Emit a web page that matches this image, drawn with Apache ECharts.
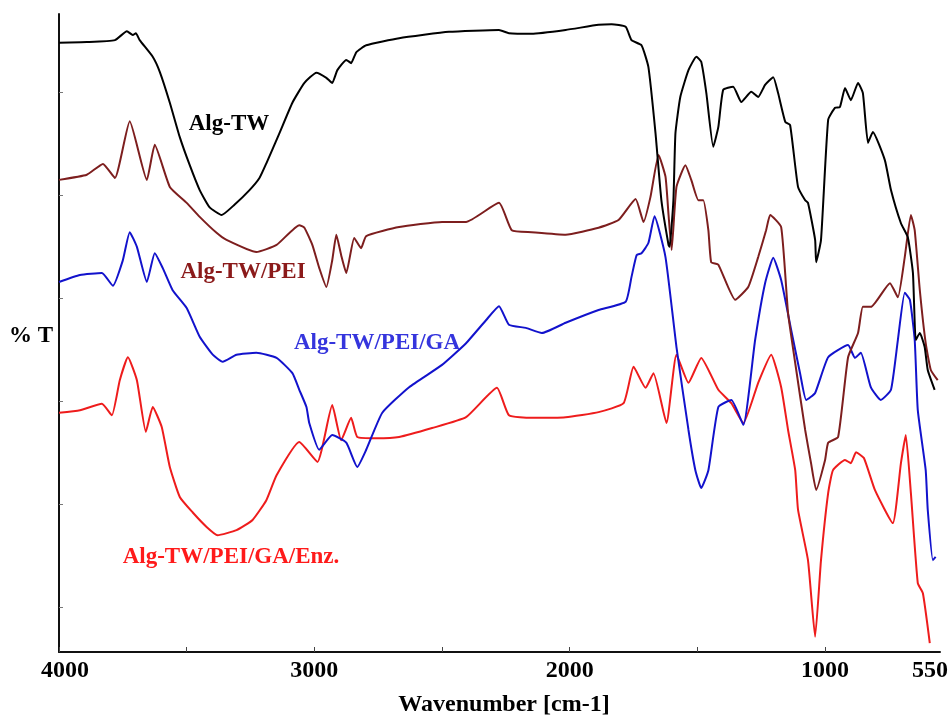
<!DOCTYPE html>
<html>
<head>
<meta charset="utf-8">
<script src="https://cdn.jsdelivr.net/npm/echarts@6/dist/echarts.min.js"></script>
<style>html,body{margin:0;padding:0;background:#fff}#c{width:952px;height:718px}</style>
</head>
<body>
<div id="c"></div>
<script>
// ---- Data (wavenumber in cm-1, transmittance in arbitrary %T units) ----
const xTickValues = [4000, 3500, 3000, 2500, 2000, 1500, 1000];
const xLabelValues = [4000, 3000, 2000, 1000, 550];
const yTickValues = [7.05, 23.2, 39.3, 55.5, 71.6, 87.8];

const algTW_wn = [4000,3891,3781,3734,3711,3699,3684,3633,3605,3566,3527,3488,3449,3410,3363,3313,3254,3215,3188,3137,3086,3039,2992,2953,2930,2910,2875,2856,2836,2797,2668,2473,2277,2238,2149,2016,1887,1836,1781,1758,1719,1692,1664,1641,1613,1609,1594,1586,1567,1535,1504,1485,1465,1438,1418,1399,1360,1328,1289,1262,1235,1203,1184,1156,1137,1106,1078,1067,1039,1035,1016,988,961,942,922,899,871,852,832,813,766,742,703,676,656,645,629,610,598,571];
const algTW_T = [95.5,95.6,95.9,97.3,96.7,97.0,95.9,93.3,90.9,86.1,80.7,76.3,72.4,69.7,68.5,70.1,72.4,74.3,76.6,81.3,86.1,89.2,90.8,90.0,89.2,91.2,92.8,92.3,94.0,95.1,96.2,97.2,97.5,97.0,96.9,97.5,98.3,98.4,98.0,95.9,95.1,91.7,81.3,70.8,63.8,63.5,70.8,81.3,87.0,91.2,93.3,92.5,87.6,79.2,82.3,88.1,88.6,86.2,87.8,87.0,88.9,90.1,87.6,83.1,82.6,72.9,70.8,70.4,64.6,61.1,64.6,83.4,85.3,85.4,88.4,86.5,89.2,87.6,79.8,81.5,77.1,72.4,67.2,65.0,59.4,48.9,50.0,47.8,44.2,41.1];

const pei_wn = [4000,3891,3828,3781,3723,3656,3625,3566,3500,3449,3383,3344,3227,3148,3059,3039,3008,2981,2953,2930,2914,2895,2875,2844,2817,2797,2668,2500,2406,2277,2227,2149,2016,1887,1809,1742,1711,1684,1652,1625,1613,1601,1582,1547,1524,1496,1477,1457,1446,1418,1352,1301,1262,1231,1215,1172,1145,1117,1078,1055,1035,1000,988,949,910,871,852,820,746,715,688,664,649,629,606,586,559];
const pei_T = [74.0,74.8,76.5,74.3,83.2,74.0,79.5,72.9,70.4,68.2,65.7,64.6,62.7,63.8,66.9,66.5,63.8,60.2,57.2,61.4,65.4,62.2,59.4,64.9,63.3,65.2,66.6,67.4,67.4,70.4,66.1,65.8,65.4,66.5,67.7,71.0,67.4,71.3,77.9,74.5,68.5,63.0,72.9,76.3,74.0,70.8,70.8,66.1,61.1,60.7,55.2,57.2,61.9,66.1,68.5,66.6,53.1,45.3,34.8,29.6,25.4,30.1,32.8,33.7,46.2,50.0,54.1,54.1,57.8,55.6,61.9,68.5,66.1,56.7,48.4,44.2,42.6];

const ga_wn = [4000,3918,3832,3789,3750,3723,3695,3656,3625,3594,3555,3500,3449,3398,3359,3305,3227,3148,3086,3059,3031,3020,2981,2930,2875,2832,2797,2734,2629,2500,2406,2328,2277,2238,2172,2109,2016,1887,1781,1758,1738,1719,1692,1668,1625,1582,1535,1508,1485,1457,1418,1367,1320,1274,1235,1203,1172,1133,1098,1074,1039,988,910,883,860,821,782,742,715,688,668,649,637,606,598,578,567];
const ga_T = [58.0,59.1,59.4,57.4,61.4,65.8,63.5,58.0,62.5,60.2,56.7,53.9,49.4,46.6,45.5,46.6,46.9,46.1,43.7,41.1,38.4,35.9,31.7,34.0,32.8,29.0,31.7,37.5,41.5,45.0,48.4,52.0,54.2,51.3,50.8,50.0,51.6,53.6,54.9,58.8,62.2,62.5,64.1,68.3,61.9,47.8,34.8,28.5,25.7,28.5,38.4,39.5,35.6,48.9,57.8,61.8,58.3,50.5,43.7,39.5,40.6,46.2,48.1,46.1,46.9,41.5,39.5,41.1,48.9,56.3,55.2,48.9,37.9,28.5,22.3,14.4,14.9];

const enz_wn = [4000,3918,3832,3793,3762,3730,3695,3660,3633,3598,3566,3527,3477,3422,3379,3305,3242,3188,3148,3059,2988,2930,2895,2856,2832,2758,2668,2539,2406,2285,2238,2149,2016,1887,1789,1750,1703,1672,1621,1582,1535,1485,1418,1367,1320,1262,1211,1172,1145,1117,1106,1067,1039,1016,988,969,922,899,879,848,805,735,703,684,664,637,617,590];
const enz_T = [37.5,37.9,38.9,37.1,42.6,46.2,42.6,34.5,38.4,35.3,29.0,24.3,21.9,19.6,18.3,19.1,20.7,23.8,27.7,32.9,29.8,38.7,33.2,36.7,33.7,33.5,33.7,35.1,36.8,41.4,37.1,36.7,36.8,37.6,39.0,44.7,41.4,43.7,35.9,46.6,42.2,46.1,41.1,39.0,35.9,42.2,46.6,41.5,34.8,28.5,22.3,14.4,2.4,14.4,24.9,28.5,30.1,29.6,31.3,30.4,25.4,20.2,29.6,34.0,24.9,10.8,9.2,1.4];

const seriesNames = ['Alg-TW', 'Alg-TW/PEI', 'Alg-TW/PEI/GA', 'Alg-TW/PEI/GA/Enz.'];

// ---- Chart ----
const pair = (xs, ys) => xs.map((x, i) => [x, ys[i]]);
const serif = '"Liberation Serif", "Times New Roman", serif';
const lineColors = ['#000000', '#7d1e1e', '#1212cc', '#ee1c1c'];
const labelColors = ['#000000', '#8b1a1a', '#3535dd', '#ff1a1a'];
const allData = [pair(algTW_wn, algTW_T), pair(pei_wn, pei_T), pair(ga_wn, ga_T), pair(enz_wn, enz_T)];

const chart = echarts.init(document.getElementById('c'), null, {renderer: 'canvas'});
const labelPos = [[229, 124], [243, 272], [377, 343], [231, 557]];
const tickFont = {fontFamily: serif, fontWeight: 'bold', fontSize: 24, color: '#000'};

chart.setOption({
  animation: false,
  backgroundColor: '#ffffff',
  grid: {left: 59, right: 12, top: 14, bottom: 66, containLabel: false, outerBoundsMode: 'none'},
  xAxis: {
    type: 'value', inverse: true, min: 550, max: 4000,
    axisLine: {show: true, lineStyle: {color: '#111', width: 2}},
    axisTick: {show: true, inside: true, length: 5, lineStyle: {color: '#444', width: 1}, customValues: xTickValues},
    axisLabel: Object.assign({show: true, margin: 7, customValues: xLabelValues, hideOverlap: false,
      formatter: v => {
        const s = String(Math.round(v));
        if (Math.round(v) === 4000) return '{first|' + s + '}';
        if (Math.round(v) === 550) return '{last|' + s + '}';
        return s;
      },
      rich: {
        first: Object.assign({padding: [0, 0, 0, 12]}, tickFont),
        last: Object.assign({padding: [0, 20, 0, 0]}, tickFont)
      }}, tickFont),
    splitLine: {show: false}
  },
  yAxis: {
    type: 'value', min: 0, max: 100,
    axisLine: {show: true, lineStyle: {color: '#111', width: 2}},
    axisTick: {show: true, inside: true, length: 4, lineStyle: {color: '#777', width: 1}, customValues: yTickValues},
    axisLabel: {show: false},
    splitLine: {show: false}
  },
  series: allData.map((d, i) => ({
    name: seriesNames[i], type: 'line', data: d, smooth: 0.15,
    showSymbol: false, symbol: 'none',
    lineStyle: {color: lineColors[i], width: 2},
    z: 2 + (3 - i)
  })),
  graphic: [
    {type: 'text', z: 20, style: {text: '% T', x: 53, y: 336, font: 'bold 23px ' + serif, fill: '#000', textAlign: 'right', textVerticalAlign: 'middle', align: 'right', verticalAlign: 'middle'}},
    {type: 'text', z: 20, style: {text: 'Wavenumber [cm-1]', x: 504, y: 705, font: 'bold 24px ' + serif, fill: '#000', textAlign: 'center', textVerticalAlign: 'middle', align: 'center', verticalAlign: 'middle'}},
  ].concat(seriesNames.map((n, i) => ({
    type: 'text', z: 20,
    style: {text: n, x: labelPos[i][0], y: labelPos[i][1], font: 'bold 23px ' + serif, fill: labelColors[i], textAlign: 'center', textVerticalAlign: 'middle', align: 'center', verticalAlign: 'middle'}
  })))
});
</script>
</body>
</html>
